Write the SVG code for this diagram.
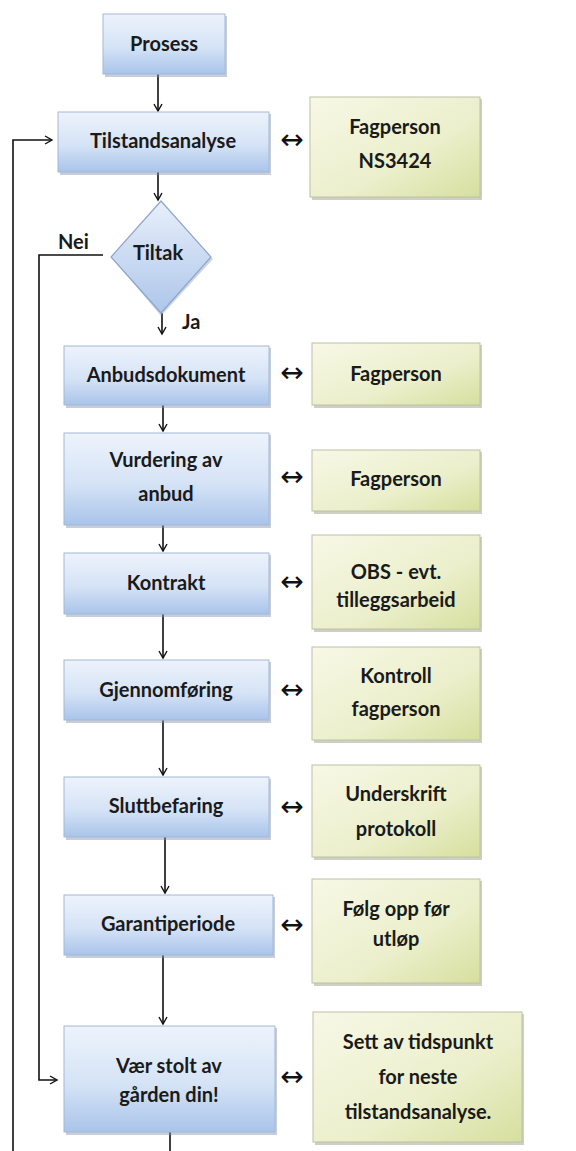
<svg xmlns="http://www.w3.org/2000/svg" width="576" height="1151" viewBox="0 0 576 1151">
<defs>
<linearGradient id="gb" x1="0" y1="0" x2="0" y2="1">
<stop offset="0" stop-color="#edf3fc"/>
<stop offset="0.55" stop-color="#d5e3f6"/>
<stop offset="1" stop-color="#a9c4ea"/>
</linearGradient>
<linearGradient id="gg" x1="0" y1="0" x2="1" y2="1">
<stop offset="0" stop-color="#f7f8e6"/>
<stop offset="0.6" stop-color="#ebefcb"/>
<stop offset="1" stop-color="#d6df9e"/>
</linearGradient>
<linearGradient id="gd" x1="0" y1="0" x2="0" y2="1">
<stop offset="0" stop-color="#e8effa"/>
<stop offset="1" stop-color="#adc6ea"/>
</linearGradient>
<marker id="ah" markerWidth="10" markerHeight="10" refX="8" refY="5" orient="auto" markerUnits="userSpaceOnUse">
<path d="M1,1 L8,5 L1,9" fill="none" stroke="#111" stroke-width="1.4"/>
</marker>
<style>
.b{fill:url(#gb);stroke:#a3b8d6;stroke-width:1}
.g{fill:url(#gg);stroke:#bcc2a4;stroke-width:1}
.sb{fill:#8393ab;opacity:0.45}
.sg{fill:#90967a;opacity:0.45}
.t{font-family:Lato,"Liberation Sans",sans-serif;font-weight:bold;font-size:20px;fill:#1a1a1a;text-anchor:middle}
.l{font-family:Lato,"Liberation Sans",sans-serif;font-weight:bold;font-size:20px;fill:#1a1a1a}
.d{font-family:"DejaVu Sans",sans-serif;font-size:28px;fill:#111;text-anchor:middle}
.c{fill:none;stroke:#111;stroke-width:1.6}
</style>
</defs>
<rect width="576" height="1151" fill="#fff"/>

<g id="connectors">
<path class="c" d="M158,74 V111" marker-end="url(#ah)"/>
<path class="c" d="M158,172 V200" marker-end="url(#ah)"/>
<path class="c" d="M162,313 V334" marker-end="url(#ah)"/>
<path class="c" d="M163,405 V431" marker-end="url(#ah)"/>
<path class="c" d="M163,525 V551" marker-end="url(#ah)"/>
<path class="c" d="M163,614 V658" marker-end="url(#ah)"/>
<path class="c" d="M163,720 V775" marker-end="url(#ah)"/>
<path class="c" d="M165,837 V893" marker-end="url(#ah)"/>
<path class="c" d="M163,955 V1024" marker-end="url(#ah)"/>
<path class="c" d="M170,1132 V1151"/>
<path class="c" d="M13,1151 V140 H52" marker-end="url(#ah)"/>
<path class="c" d="M103,255 H39 V1080 H57" marker-end="url(#ah)"/>
<text class="l" x="58" y="249">Nei</text>
<text class="l" x="182" y="329">Ja</text>
<text class="d" x="292" y="149">↔</text>
<text class="d" x="292" y="382">↔</text>
<text class="d" x="292" y="486">↔</text>
<text class="d" x="292" y="591">↔</text>
<text class="d" x="292" y="699">↔</text>
<text class="d" x="292" y="816">↔</text>
<text class="d" x="292" y="934">↔</text>
<text class="d" x="292" y="1086">↔</text>
</g>

<g id="prosess">
<rect class="sb" x="105" y="16" width="122" height="61"/>
<rect class="b" x="103" y="14" width="122" height="60"/>
<text class="t" x="164" y="51">Prosess</text>
</g>

<g id="tilstandsanalyse">
<rect class="sb" x="60" y="114" width="211" height="61"/>
<rect class="b" x="58" y="112" width="211" height="60"/>
<text class="t" x="163" y="148">Tilstandsanalyse</text>
</g>

<g id="fagperson-ns3424">
<rect class="sg" x="312" y="99" width="170" height="101"/>
<rect class="g" x="310" y="97" width="170" height="100"/>
<text class="t" x="395" y="134">Fagperson</text>
<text class="t" x="395" y="168">NS3424</text>
</g>

<g id="tiltak">
<path d="M161,204 L213,259 L161,316 L113,259 Z" fill="#8fa2c0" opacity="0.45"/>
<path d="M161,201 L211,257 L161,313 L111,257 Z" fill="url(#gd)" stroke="#8ea6cc" stroke-width="1.2"/>
<text class="t" x="158" y="260">Tiltak</text>
</g>

<g id="anbudsdokument">
<rect class="sb" x="66" y="348" width="205" height="60"/>
<rect class="b" x="64" y="346" width="205" height="59"/>
<text class="t" x="166" y="382">Anbudsdokument</text>
</g>

<g id="fagperson-1">
<rect class="sg" x="314" y="345" width="168" height="63"/>
<rect class="g" x="312" y="343" width="168" height="62"/>
<text class="t" x="396" y="381">Fagperson</text>
</g>

<g id="vurdering">
<rect class="sb" x="66" y="435" width="205" height="93"/>
<rect class="b" x="64" y="433" width="205" height="92"/>
<text class="t" x="166" y="467">Vurdering av</text>
<text class="t" x="166" y="501">anbud</text>
</g>

<g id="fagperson-2">
<rect class="sg" x="314" y="452" width="168" height="62"/>
<rect class="g" x="312" y="450" width="168" height="61"/>
<text class="t" x="396" y="486">Fagperson</text>
</g>

<g id="kontrakt">
<rect class="sb" x="66" y="555" width="205" height="62"/>
<rect class="b" x="64" y="553" width="205" height="61"/>
<text class="t" x="166" y="590">Kontrakt</text>
</g>

<g id="obs">
<rect class="sg" x="314" y="537" width="168" height="95"/>
<rect class="g" x="312" y="535" width="168" height="94"/>
<text class="t" x="396" y="579">OBS - evt.</text>
<text class="t" x="396" y="607">tilleggsarbeid</text>
</g>

<g id="gjennomforing">
<rect class="sb" x="66" y="662" width="205" height="61"/>
<rect class="b" x="64" y="660" width="205" height="60"/>
<text class="t" x="166" y="697">Gjennomføring</text>
</g>

<g id="kontroll">
<rect class="sg" x="314" y="649" width="168" height="94"/>
<rect class="g" x="312" y="647" width="168" height="93"/>
<text class="t" x="396" y="683">Kontroll</text>
<text class="t" x="396" y="716">fagperson</text>
</g>

<g id="sluttbefaring">
<rect class="sb" x="66" y="779" width="205" height="61"/>
<rect class="b" x="64" y="777" width="205" height="60"/>
<text class="t" x="166" y="813">Sluttbefaring</text>
</g>

<g id="underskrift">
<rect class="sg" x="314" y="767" width="168" height="93"/>
<rect class="g" x="312" y="765" width="168" height="92"/>
<text class="t" x="396" y="801">Underskrift</text>
<text class="t" x="396" y="836">protokoll</text>
</g>

<g id="garantiperiode">
<rect class="sb" x="66" y="897" width="209" height="61"/>
<rect class="b" x="64" y="895" width="209" height="60"/>
<text class="t" x="168" y="931">Garantiperiode</text>
</g>

<g id="folg-opp">
<rect class="sg" x="314" y="881" width="168" height="105"/>
<rect class="g" x="312" y="879" width="168" height="104"/>
<text class="t" x="396" y="916">Følg opp før</text>
<text class="t" x="396" y="946">utløp</text>
</g>

<g id="vaer-stolt">
<rect class="sb" x="66" y="1028" width="211" height="107"/>
<rect class="b" x="64" y="1026" width="211" height="106"/>
<text class="t" x="169" y="1073">Vær stolt av</text>
<text class="t" x="169" y="1102">gården din!</text>
</g>

<g id="sett-av">
<rect class="sg" x="315" y="1014" width="209" height="131"/>
<rect class="g" x="313" y="1012" width="209" height="130"/>
<text class="t" x="418" y="1049">Sett av tidspunkt</text>
<text class="t" x="418" y="1084">for neste</text>
<text class="t" x="418" y="1119">tilstandsanalyse.</text>
</g>
</svg>
